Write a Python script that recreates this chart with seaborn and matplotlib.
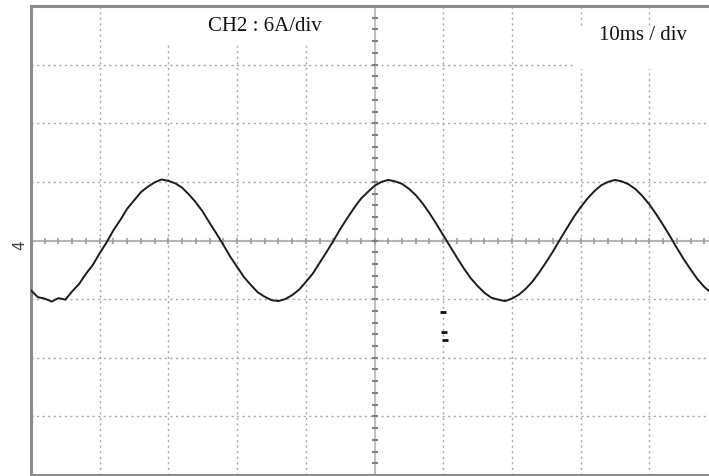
import numpy as np
import pandas as pd
import matplotlib
matplotlib.use("Agg")
import matplotlib.pyplot as plt
from matplotlib.patches import Rectangle
import seaborn as sns

# scope screen: 10 ms/div (10 divs), 6 A/div (8 divs)
time_ms = list(range(0, 101))
current_a = [
    -5.10, -5.80, -5.95, -6.25, -5.90, -6.05, -5.20, -4.45, -3.40, -2.50,
    -1.30, -0.20, 1.05, 2.10, 3.25, 4.10, 4.95, 5.50, 5.95, 6.25,
    6.10, 5.85, 5.40, 4.70, 3.90, 2.95, 1.80, 0.70, -0.45, -1.65,
    -2.70, -3.75, -4.55, -5.30, -5.75, -6.10, -6.20, -6.00, -5.60, -5.05,
    -4.25, -3.40, -2.30, -1.20, -0.05, 1.15, 2.25, 3.30, 4.25, 4.95,
    5.60, 6.00, 6.20, 6.05, 5.80, 5.30, 4.65, 3.80, 2.80, 1.70,
    0.55, -0.60, -1.75, -2.85, -3.85, -4.65, -5.35, -5.85, -6.05, -6.20,
    -5.95, -5.55, -4.95, -4.20, -3.25, -2.20, -1.10, 0.10, 1.25, 2.40,
    3.40, 4.30, 5.05, 5.65, 6.00, 6.20, 6.05, 5.75, 5.25, 4.55,
    3.70, 2.70, 1.60, 0.45, -0.75, -1.90, -2.95, -3.95, -4.75, -5.35,
    -5.85,
]
# stray dots below the trace
dot_ms = [60.0, 60.1, 60.2]
dot_a = [-7.3, -9.4, -10.2]

ch_label = "CH2 : 6A/div"
time_label = "10ms / div"

x_divs, y_divs = 10, 8
ms_per_div, a_per_div = 10, 6

sns.set_style("white")
plt.rcParams["font.family"] = ["Liberation Serif", "DejaVu Serif"]

fig = plt.figure(figsize=(7.09, 4.76), dpi=100)
ax = fig.add_axes([31 / 709, 1 / 476, 687 / 709, 469 / 476])
xmax = x_divs * ms_per_div
ymax = y_divs / 2 * a_per_div
ax.set_xlim(0, xmax)
ax.set_ylim(-ymax, ymax)
ax.set_xticks([])
ax.set_yticks([])

for side in ["left", "top", "bottom"]:
    ax.spines[side].set_color("#8c8c8c")
    ax.spines[side].set_linewidth(2.2)
ax.spines["right"].set_visible(False)

# dotted graticule
grid_kw = dict(color="#a8a8a8", lw=1.0, ls=(0, (1.5, 2.5)), zorder=1)
for gx in np.arange(ms_per_div, xmax, ms_per_div):
    if gx != xmax / 2:
        ax.axvline(gx, **grid_kw)
for gy in np.arange(-ymax + a_per_div, ymax, a_per_div):
    if gy != 0:
        ax.axhline(gy, **grid_kw)

# centre cross with minor ticks
ax.axhline(0, color="#b4b4b4", lw=1.5, zorder=1)
ax.axvline(xmax / 2, color="#c0c0c0", lw=1.5, zorder=1)
hx = np.arange(0, xmax + 0.1, ms_per_div / 5)
ax.plot(hx, np.zeros_like(hx), ls="none", marker="|", ms=4, mew=1.2,
        color="#9a9a9a", zorder=1)
vy = np.arange(-ymax, ymax + 0.1, a_per_div / 5)
ax.plot(np.full_like(vy, xmax / 2), vy, ls="none", marker="_", ms=4.5,
        mew=1.5, color="#808080", zorder=1)

# white boxes behind the labels
ax.add_patch(Rectangle((17.3, 20.1), 28.4, ymax - 20.1, facecolor="white",
                       edgecolor="none", zorder=2))
ax.add_patch(Rectangle((79.2, 17.6), xmax - 79.2, 4.1, facecolor="white",
                       edgecolor="none", zorder=2))
ax.text(0.341, 0.957, ch_label, transform=ax.transAxes, ha="center",
        va="center", fontsize=15, color="#111111", zorder=3)
ax.text(0.891, 0.937, time_label, transform=ax.transAxes, ha="center",
        va="center", fontsize=15, color="#111111", zorder=3)

df = pd.DataFrame({"t": time_ms, "i": current_a})
sns.lineplot(data=df, x="t", y="i", ax=ax, color="#1c1c1c", lw=1.4,
             zorder=4)
ax.plot(dot_ms, dot_a, ls="none", marker="_", ms=4, mew=2.0,
        color="#111111", zorder=4)
ax.set_xlabel("")
ax.set_ylabel("")

# channel ground marker left of the frame
fig.text(20 / 709, 1 - 245 / 476, "4", rotation=90, ha="center", va="center",
         fontsize=11, color="#444444", family=["DejaVu Sans"])

fig.savefig("out.png", dpi=100)
